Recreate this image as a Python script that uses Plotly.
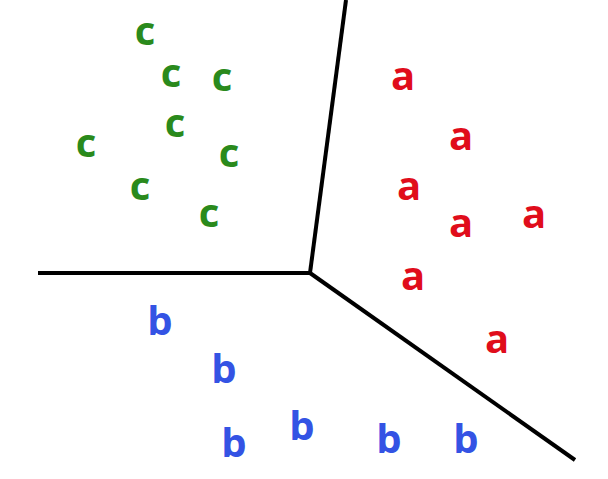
import plotly.graph_objects as go

# class points (pixel-like coordinates, y downward)
a_x = [403, 461, 409, 461, 534, 413, 497]
a_y = [80, 140, 190, 227, 218, 280, 343]
b_x = [160, 224, 234, 302, 389, 466]
b_y = [325, 373, 447, 430, 443, 443]
c_x = [145, 171, 222, 175, 86, 229, 140, 209]
c_y = [35, 77, 81, 127, 147, 157, 190, 217]

# decision boundary segments: from center vertex to ends
center = (310, 273)
ends_x = [346, 38, 575]
ends_y = [0, 273, 460]

fig = go.Figure()
for ex, ey in zip(ends_x, ends_y):
    fig.add_trace(go.Scatter(x=[center[0], ex], y=[center[1], ey], mode="lines",
                             line=dict(color="black", width=4), hoverinfo="skip"))

font = "Open Sans"
for xs, ys, lab, col in [(a_x, a_y, "a", "#e00d1b"), (b_x, b_y, "b", "#3453e4"), (c_x, c_y, "c", "#2a8a1c")]:
    fig.add_trace(go.Scatter(x=xs, y=ys, mode="text", text=[lab] * len(xs),
                             textposition="middle center",
                             textfont=dict(family=font, size=40, color=col, weight="bold")))

fig.update_layout(width=608, height=479, margin=dict(l=0, r=0, t=0, b=0),
                  showlegend=False, plot_bgcolor="white", paper_bgcolor="white",
                  xaxis=dict(range=[0, 608], visible=False, fixedrange=True),
                  yaxis=dict(range=[479, 0], visible=False, fixedrange=True))
fig.write_html("out.html", config={"displayModeBar": False},
               post_script="document.body.style.margin='0';document.body.style.overflow='hidden';")
